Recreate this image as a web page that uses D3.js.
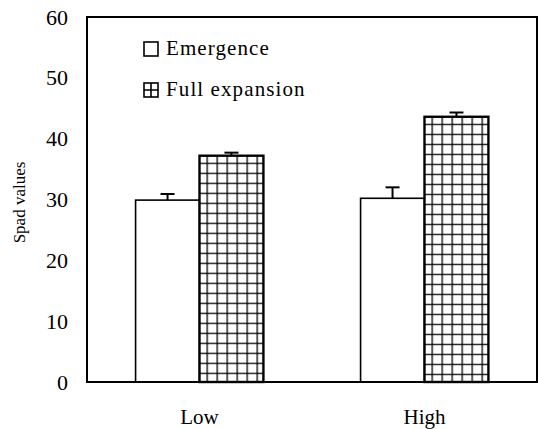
<!DOCTYPE html>
<html>
<head>
<meta charset="utf-8">
<script src="https://cdn.jsdelivr.net/npm/d3@7"></script>
<style>
  body { margin: 0; background: #fff; }
  svg, svg text { font-family: "Liberation Serif", "DejaVu Serif", serif; }
</style>
</head>
<body>
<div id="chart"></div>
<script>
// data
var categories = ["Low", "High"];
var seriesNames = ["Emergence", "Full expansion"];
var emergence = [29.9, 30.2];
var emergenceErr = [1.0, 1.8];
var fullExpansion = [37.2, 43.6];
var fullExpansionErr = [0.5, 0.7];
var yTicks = [0, 10, 20, 30, 40, 50, 60];

var width = 538, height = 429;
var margin = {top: 17, right: 1, bottom: 47, left: 87};
var plotW = width - margin.left - margin.right,
    plotH = height - margin.top - margin.bottom;
var serif = "'Liberation Serif', 'DejaVu Serif', serif";

var svg = d3.select("#chart").append("svg")
    .attr("width", width)
    .attr("height", height)
    .style("font-family", serif);

var defs = svg.append("defs");

var g = svg.append("g")
    .attr("transform", "translate(" + margin.left + "," + margin.top + ")");

var x0 = d3.scaleBand().domain(categories).range([0, plotW]).paddingInner(0).paddingOuter(0);
var x1 = d3.scaleBand().domain(seriesNames).range([0, x0.bandwidth()]).paddingInner(0).paddingOuter(0.76);
var y = d3.scaleLinear().domain([0, 60]).range([plotH, 0]);

var rows = [];
categories.forEach(function(c, i) {
    rows.push({cat: c, series: seriesNames[0], value: emergence[i], err: emergenceErr[i]});
    rows.push({cat: c, series: seriesNames[1], value: fullExpansion[i], err: fullExpansionErr[i]});
});

// grid hatch patterns, one per checked bar so the grid starts at the bar corner
rows.forEach(function(d, i) {
    if (d.series !== seriesNames[1]) return;
    var bx = margin.left + x0(d.cat) + x1(d.series);
    var by = margin.top + y(d.value);
    var p = defs.append("pattern")
        .attr("id", "grid" + i)
        .attr("patternUnits", "userSpaceOnUse")
        .attr("x", bx).attr("y", by)
        .attr("width", 10).attr("height", 10);
    p.append("rect").attr("width", 10).attr("height", 10).attr("fill", "#fff");
    p.append("path").attr("d", "M0,0H10M0,0V10")
        .attr("stroke", "#000").attr("stroke-width", 2.6).attr("fill", "none");
});

// bars
g.selectAll("rect.bar")
    .data(rows)
    .enter().append("rect")
    .attr("class", "bar")
    .attr("x", function(d) { return x0(d.cat) + x1(d.series); })
    .attr("y", function(d) { return y(d.value); })
    .attr("width", x1.bandwidth())
    .attr("height", function(d) { return plotH - y(d.value); })
    .attr("fill", function(d, i) { return d.series === seriesNames[1] ? "url(#grid" + i + ")" : "#fff"; })
    .attr("stroke", "#000")
    .attr("stroke-width", function(d) { return d.series === seriesNames[1] ? 2.4 : 1.6; });

// error bars (upper only)
var capW = 7;
var eb = g.selectAll("g.err").data(rows).enter().append("g").attr("class", "err");
eb.append("line")
    .attr("x1", function(d) { return x0(d.cat) + x1(d.series) + x1.bandwidth() / 2; })
    .attr("x2", function(d) { return x0(d.cat) + x1(d.series) + x1.bandwidth() / 2; })
    .attr("y1", function(d) { return y(d.value); })
    .attr("y2", function(d) { return y(d.value + d.err); })
    .attr("stroke", "#000").attr("stroke-width", 2);
eb.append("line")
    .attr("x1", function(d) { return x0(d.cat) + x1(d.series) + x1.bandwidth() / 2 - capW; })
    .attr("x2", function(d) { return x0(d.cat) + x1(d.series) + x1.bandwidth() / 2 + capW; })
    .attr("y1", function(d) { return y(d.value + d.err); })
    .attr("y2", function(d) { return y(d.value + d.err); })
    .attr("stroke", "#000").attr("stroke-width", 2);

// frame
g.append("rect")
    .attr("x", 0).attr("y", 0)
    .attr("width", plotW).attr("height", plotH)
    .attr("fill", "none").attr("stroke", "#000").attr("stroke-width", 2);

// y axis labels (no tick marks)
var yAxis = d3.axisLeft(y).tickValues(yTicks).tickSize(0).tickPadding(19);
g.append("g").call(yAxis)
    .attr("font-family", serif)
    .attr("font-size", 22)
    .call(function(a) { a.select(".domain").remove(); })
    .selectAll("text")
    .attr("fill", "#000");

// x axis labels
var xAxis = d3.axisBottom(x0).tickSize(0).tickPadding(27);
g.append("g").attr("transform", "translate(0," + plotH + ")").call(xAxis)
    .attr("font-family", serif)
    .attr("font-size", 21)
    .call(function(a) { a.select(".domain").remove(); })
    .selectAll("text")
    .attr("fill", "#000");

// y title
svg.append("text")
    .attr("transform", "translate(19," + (margin.top + plotH / 2 + 3) + ") rotate(-90)")
    .attr("text-anchor", "middle")
    .attr("dy", "0.35em")
    .style("font-size", "17px")
    .text("Spad values");

// legend
var legend = g.selectAll("g.legend").data(seriesNames).enter().append("g")
    .attr("class", "legend")
    .attr("transform", function(d, i) { return "translate(57," + (25 + i * 41) + ")"; });
legend.append("rect")
    .attr("width", 14).attr("height", 14)
    .attr("fill", "#fff").attr("stroke", "#000").attr("stroke-width", 1.6);
legend.filter(function(d, i) { return i === 1; }).append("path")
    .attr("d", "M0,7H14M7,0V14")
    .attr("stroke", "#000").attr("stroke-width", 1.6);
legend.append("text")
    .attr("x", 22).attr("y", 13)
    .style("font-size", "21px")
    .style("letter-spacing", "1.1px")
    .text(function(d) { return d; });
</script>
</body>
</html>
